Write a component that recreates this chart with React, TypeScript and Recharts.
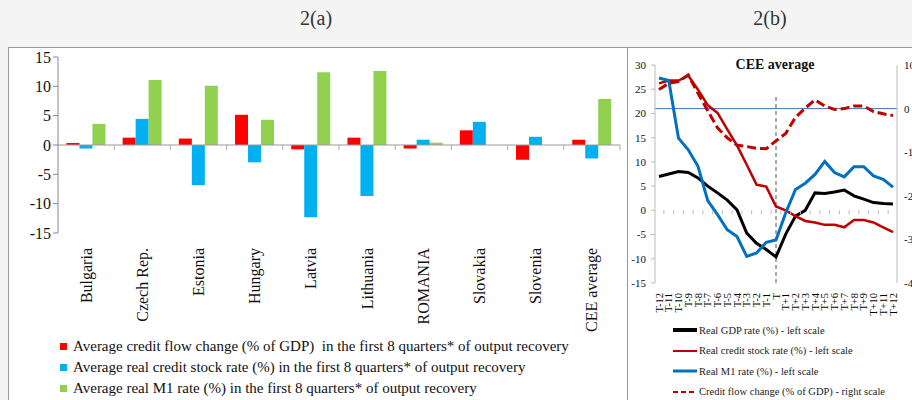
import React from "react";
import {
  BarChart,
  Bar,
  LineChart,
  Line,
  XAxis,
  YAxis,
  ReferenceLine,
  Legend,
} from "recharts";

const FONT = "'Liberation Serif', 'Times New Roman', serif";

// ---- 2(a) data ----
const countries = [
  "Bulgaria",
  "Czech Rep.",
  "Estonia",
  "Hungary",
  "Latvia",
  "Lithuania",
  "ROMANIA",
  "Slovakia",
  "Slovenia",
  "CEE average",
];
const creditFlow = [0.35, 1.25, 1.1, 5.15, -0.75, 1.25, -0.6, 2.5, -2.5, 0.9];
const creditStock = [-0.6, 4.45, -6.85, -2.95, -12.3, -8.7, 0.9, 3.95, 1.4, -2.3];
const realM1 = [3.6, 11.1, 10.1, 4.3, 12.4, 12.6, 0.4, 0, 0, 7.85];
const barTicks = [-15, -10, -5, 0, 5, 10, 15];
const barNames = [
  "Average credit flow change (% of GDP)  in the first 8 quarters* of output recovery",
  "Average real credit stock rate (%) in the first 8 quarters* of output recovery",
  "Average real M1 rate (%) in the first 8 quarters* of output recovery",
];
const barColors = ["#ff0000", "#00b0f0", "#92d050"];

// ---- 2(b) data ----
const quarters = [
  "T-12", "T-11", "T-10", "T-9", "T-8", "T-7", "T-6", "T-5", "T-4", "T-3", "T-2", "T-1",
  "T",
  "T+1", "T+2", "T+3", "T+4", "T+5", "T+6", "T+7", "T+8", "T+9", "T+10", "T+11", "T+12",
];
const gdpRate = [7.0, 7.5, 8.0, 7.8, 6.7, 5.0, 3.6, 2.1, 0.1, -4.7, -6.8, -8.1, -9.6, -4.9, -1.2, 0.0, 3.6, 3.5, 3.8, 4.2, 3.0, 2.3, 1.6, 1.4, 1.3];
const creditStockRate = [26.2, 26.8, 26.8, 27.8, 24.9, 21.7, 20.1, 16.7, 13.4, 9.4, 5.3, 4.9, 0.8, 0.0, -1.2, -2.2, -2.5, -3.0, -3.0, -3.5, -2.0, -2.0, -2.5, -3.5, -4.5];
const m1Rate = [27.3, 26.8, 14.9, 12.5, 9.1, 2.0, -0.9, -4.0, -5.4, -9.5, -8.8, -6.6, -6.1, -0.5, 4.3, 5.6, 7.4, 10.1, 7.8, 6.9, 9.0, 9.0, 7.1, 6.4, 4.8];
const creditFlowChange = [4.4, 5.8, 6.2, 7.7, 3.5, -0.5, -4.4, -6.7, -8.4, -8.7, -9.1, -9.2, -7.4, -5.7, -2.0, 0.1, 2.0, 0.6, -0.2, 0.0, 0.6, 0.6, -0.7, -1.2, -1.6];
const leftTicks = [-15, -10, -5, 0, 5, 10, 15, 20, 25, 30];
const rightTicks = [-40, -30, -20, -10, 0, 10];
const lineNames = [
  "Real GDP rate (%) - left scale",
  "Real credit stock rate (%) - left scale",
  "Real M1 rate (%) - left scale",
  "Credit flow change (% of GDP) - right scale",
];
const lineColors = ["#000000", "#c00000", "#0070c0", "#c00000"];

const barData = countries.map((c, i) => ({
  country: c,
  flow: creditFlow[i],
  stock: creditStock[i],
  m1: realM1[i],
}));

const lineData = quarters.map((q, i) => ({
  t: q,
  gdp: gdpRate[i],
  credit: creditStockRate[i],
  m1: m1Rate[i],
  flow: creditFlowChange[i],
}));

// layout constants (styling only)
const A_W = 614;
const A_H = 353;
const A_PLOT_H = 176;
const A_BAND = 56.2;

const B_W = 285;
const B_H = 353;
const B_PLOT_H = 218;
const B_STEP = 9.75;

const SerifTick = (props: any) => {
  const { x, y, payload, textAnchor, size } = props;
  return (
    <text x={x} y={y} dy="0.355em" textAnchor={textAnchor} fontSize={size} fontFamily={FONT} fill="#111">
      {payload.value}
    </text>
  );
};

const CountryTick = (props: any) => {
  const { x, y, payload, index } = props;
  const zeroY = y - A_PLOT_H / 2;
  const ax = x + 5.5;
  const ay = y + 15;
  return (
    <g>
      {index > 0 && (
        <line x1={x - A_BAND / 2} x2={x - A_BAND / 2} y1={zeroY} y2={zeroY + 5} stroke="#aaa" />
      )}
      {index === countries.length - 1 && (
        <line x1={x + A_BAND / 2} x2={x + A_BAND / 2} y1={zeroY} y2={zeroY + 5} stroke="#aaa" />
      )}
      <text
        x={ax}
        y={ay}
        transform={`rotate(-90, ${ax}, ${ay})`}
        textAnchor="end"
        fontSize={16}
        fontFamily={FONT}
        fill="#111"
      >
        {payload.value}
      </text>
    </g>
  );
};

const QuarterTick = (props: any) => {
  const { x, y, payload, index } = props;
  const zeroY = y - (B_PLOT_H * 15) / 45;
  const ax = x + 3.5;
  const ay = y + 10;
  return (
    <g>
      {index > 0 && (
        <line x1={x - B_STEP / 2} x2={x - B_STEP / 2} y1={zeroY} y2={zeroY + 4} stroke="#bbb" />
      )}
      <text
        x={ax}
        y={ay}
        transform={`rotate(-90, ${ax}, ${ay})`}
        textAnchor="end"
        fontSize={10.5}
        fontFamily={FONT}
        fill="#000"
      >
        {payload.value}
      </text>
    </g>
  );
};

const BarLegend = () => (
  <div style={{ height: 67, paddingTop: 3, paddingLeft: 52, boxSizing: "border-box", fontFamily: FONT }}>
    {barNames.map((name, i) => (
      <div key={i} style={{ display: "flex", alignItems: "center", height: 21, fontSize: 15, color: "#111", whiteSpace: "pre" }}>
        <div style={{ width: 7, height: 7, background: barColors[i], marginRight: 6 }} />
        <span>{name}</span>
      </div>
    ))}
  </div>
);

const lineSampleWidth = [4, 2, 3, 2];

const LineLegend = () => (
  <div style={{ height: 82, paddingTop: 2, paddingLeft: 46, boxSizing: "border-box", fontFamily: FONT }}>
    {lineNames.map((name, i) => {
      const dashed = i === 3;
      return (
        <div key={i} style={{ display: "flex", alignItems: "center", height: 20.5, fontSize: 10.5, color: "#222" }}>
          <svg width={24} height={6} style={{ marginRight: 2 }}>
            <line
              x1={0}
              x2={24}
              y1={3}
              y2={3}
              stroke={lineColors[i]}
              strokeWidth={lineSampleWidth[i]}
              strokeDasharray={dashed ? "5 3" : undefined}
            />
          </svg>
          <span>{name}</span>
        </div>
      );
    })}
  </div>
);

export default function App() {
  return (
    <div
      style={{
        position: "absolute",
        left: 0,
        top: 0,
        width: 912,
        height: 400,
        overflow: "hidden",
        background: "#f4f4f4",
        fontFamily: FONT,
      }}
    >
      {/* header */}
      <div style={{ position: "absolute", left: 216, width: 200, top: 7, textAlign: "center", fontSize: 20, color: "#333" }}>
        2(a)
      </div>
      <div style={{ position: "absolute", left: 670, width: 200, top: 7, textAlign: "center", fontSize: 20, color: "#333" }}>
        2(b)
      </div>

      {/* panels */}
      <div style={{ position: "absolute", left: 8, top: 47, width: 619, height: 353, background: "#fff", borderTop: "1.5px solid #999", borderLeft: "1.5px solid #999", boxSizing: "border-box" }} />
      <div style={{ position: "absolute", left: 627, top: 47, width: 285, height: 353, background: "#fff", borderTop: "1.5px solid #999", borderLeft: "1.5px solid #999", boxSizing: "border-box" }} />

      {/* 2(a) bar chart */}
      <div style={{ position: "absolute", left: 8, top: 47 }}>
        <BarChart
          width={A_W}
          height={A_H}
          data={barData}
          margin={{ top: 10, right: 2, left: 0, bottom: 0 }}
          barCategoryGap="15%"
          barGap={0}
        >
          <XAxis
            dataKey="country"
            interval={0}
            height={100}
            axisLine={false}
            tickLine={false}
            tickSize={0}
            tickMargin={0}
            tick={<CountryTick />}
          />
          <YAxis
            width={50}
            domain={[-15, 15]}
            ticks={barTicks}
            interval={0}
            axisLine={{ stroke: "#888" }}
            tickLine={{ stroke: "#888" }}
            tickSize={5}
            tickMargin={2}
            tick={<SerifTick size={16} />}
          />
          <ReferenceLine y={0} stroke="#999" strokeWidth={1.2} />
          <Legend verticalAlign="bottom" content={<BarLegend />} wrapperStyle={{ left: 0, width: A_W, bottom: 0 }} />
          <Bar dataKey="flow" name={barNames[0]} fill={barColors[0]} isAnimationActive={false} />
          <Bar dataKey="stock" name={barNames[1]} fill={barColors[1]} isAnimationActive={false} />
          <Bar dataKey="m1" name={barNames[2]} fill={barColors[2]} isAnimationActive={false} />
        </BarChart>
      </div>

      {/* 2(b) line chart */}
      <div style={{ position: "absolute", left: 627, top: 47 }}>
        <LineChart
          width={B_W}
          height={B_H}
          data={lineData}
          margin={{ top: 18, right: 0, left: 0, bottom: 0 }}
        >
          <XAxis
            dataKey="t"
            interval={0}
            height={35}
            padding={{ left: 4, right: 4 }}
            axisLine={false}
            tickLine={false}
            tickSize={0}
            tickMargin={0}
            tick={<QuarterTick />}
          />
          <YAxis
            yAxisId="left"
            width={28}
            domain={[-15, 30]}
            ticks={leftTicks}
            interval={0}
            axisLine={{ stroke: "#bbb" }}
            tickLine={{ stroke: "#bbb" }}
            tickSize={4}
            tickMargin={5}
            tick={<SerifTick size={11} />}
          />
          <YAxis
            yAxisId="right"
            orientation="right"
            width={15}
            domain={[-40, 10]}
            ticks={rightTicks}
            interval={0}
            axisLine={{ stroke: "#bbb" }}
            tickLine={false}
            tickSize={5}
            tickMargin={2}
            tick={<SerifTick size={11} />}
          />
          <ReferenceLine yAxisId="right" y={0} stroke="#4472c4" strokeWidth={1} />
          <ReferenceLine
            yAxisId="left"
            segment={[
              { x: "T", y: -15 },
              { x: "T", y: 24 },
            ]}
            stroke="#555"
            strokeDasharray="4 3"
          />
          <Legend verticalAlign="bottom" content={<LineLegend />} wrapperStyle={{ left: 0, width: B_W, bottom: 0 }} />
          <Line yAxisId="left" dataKey="gdp" name={lineNames[0]} stroke={lineColors[0]} strokeWidth={3} dot={false} isAnimationActive={false} />
          <Line yAxisId="left" dataKey="credit" name={lineNames[1]} stroke={lineColors[1]} strokeWidth={2.5} dot={false} isAnimationActive={false} />
          <Line yAxisId="left" dataKey="m1" name={lineNames[2]} stroke={lineColors[2]} strokeWidth={3} dot={false} isAnimationActive={false} />
          <Line
            yAxisId="right"
            dataKey="flow"
            name={lineNames[3]}
            stroke={lineColors[3]}
            strokeWidth={3}
            strokeDasharray="9 4"
            dot={false}
            isAnimationActive={false}
          />
        </LineChart>
      </div>

      <div
        style={{
          position: "absolute",
          left: 715,
          width: 120,
          top: 57,
          textAlign: "center",
          fontSize: 14,
          fontWeight: "bold",
          color: "#111",
        }}
      >
        CEE average
      </div>
    </div>
  );
}
